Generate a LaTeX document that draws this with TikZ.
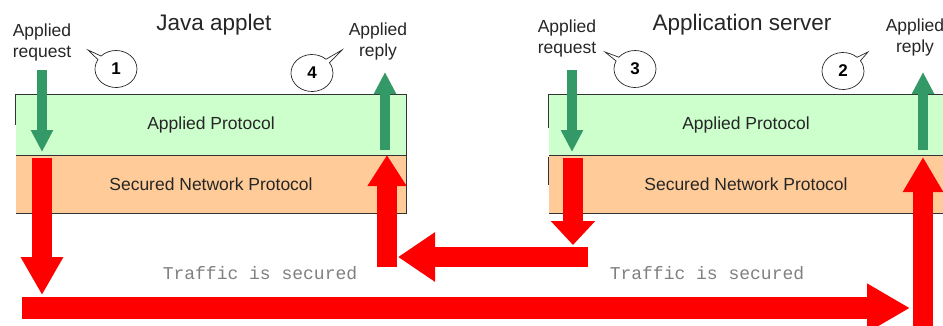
\documentclass[tikz,border=0pt]{standalone}
\usepackage{fontspec}
\setmainfont{Liberation Sans}
\newfontfamily\monof{Liberation Mono}
\usetikzlibrary{arrows.meta,shapes.callouts}
\definecolor{boxgreen}{HTML}{CCFFCC}
\definecolor{boxorange}{HTML}{FFCC99}
\definecolor{arrgreen}{HTML}{339966}
\definecolor{trafficgray}{HTML}{808080}
\definecolor{arrred}{HTML}{FF0000}
\tikzset{
  layer/.style={inner sep=0pt, minimum height=#1, font=\fontsize{17.5}{21}\selectfont, text=black!85},
  greenlayer/.style={layer=60pt, fill=boxgreen},
  orangelayer/.style={layer=58pt, fill=boxorange},
  border/.style={draw=black!80, line width=0.9pt},
  lbl/.style={align=center, inner sep=0pt, font=\fontsize{17.5}{21}\selectfont, text=black!85},
  title/.style={inner sep=0pt, font=\fontsize{22.5}{26}\selectfont, text=black!85},
  bubble/.style={ellipse callout, draw=black!85, line width=0.7pt, fill=white, minimum width=42pt, minimum height=37pt, inner sep=0pt, font=\bfseries\fontsize{17}{17}\selectfont, callout pointer arc=14},
  garrow/.style={draw=arrgreen, line width=10pt, -{Triangle[width=21pt,length=22pt]}},
  rarrow/.style={draw=arrred, line width=20pt},
  traffic/.style={inner sep=0pt, font=\monof\fontsize{18}{18}\selectfont, text=trafficgray}
}
\begin{document}
\begin{tikzpicture}[x=1pt,y=-1pt]
\useasboundingbox (0,0) rectangle (943,325);

% layers
\node[greenlayer, minimum width=390pt] (ap1) at (211,125) {Applied Protocol};
\node[orangelayer, minimum width=390pt] (sn1) at (211,184) {Secured Network Protocol};
\node[greenlayer, minimum width=394pt] (ap2) at (746,125) {Applied Protocol};
\node[orangelayer, minimum width=394pt] (sn2) at (746,184) {Secured Network Protocol};

% borders
\draw[border] ([yshift=-30pt]ap1.north west) -- (ap1.north west) -- (ap1.north east) -- (sn1.south east) -- (sn1.south west);
\draw[border] (ap1.south west) -- (ap1.south east);
\draw[border] ([yshift=-33pt]ap2.north west) -- (ap2.north west) -- (ap2.north east);
\draw[border] (ap2.south west) -- (ap2.south east);
\draw[border] ([yshift=-2pt]sn2.north west) -- ([yshift=-30pt]sn2.north west);
\draw[border] (sn2.south west) -- (sn2.south east);

% titles
\node[title] (t1) at (214,25) {Java applet};
\node[title] (t2) at (742,25) {Application server};

% labels
\node[lbl] (req1) at (42,42) {Applied\\request};
\node[lbl] (rep1) at (378,41) {Applied\\reply};
\node[lbl] (req2) at (567,38) {Applied\\request};
\node[lbl] (rep2) at (915,37) {Applied\\reply};

% callouts
\node[bubble, callout absolute pointer={(88,50)}] (c1) at (116,69) {1};
\node[bubble, callout absolute pointer={(342,50)}] (c4) at (312,73) {4};
\node[bubble, callout absolute pointer={(605,52)}] (c3) at (635,69) {3};
\node[bubble, callout absolute pointer={(868,52)}] (c2) at (843,71) {2};

% coordinates for arrows
\coordinate (g1s) at (42,70);  \coordinate (g1e) at (42,152);
\coordinate (g4s) at (385,150); \coordinate (g4e) at (385,72);
\coordinate (g3s) at (572,70); \coordinate (g3e) at (572,152);
\coordinate (g2s) at (923,150); \coordinate (g2e) at (923,72);

\coordinate (ra1s) at (42,158); \coordinate (ra1e) at (42,295);
\coordinate (rb1s) at (22,308); \coordinate (rb1e) at (910,308);
\coordinate (rc1s) at (923,345); \coordinate (rc1e) at (923,157);
\coordinate (rd1s) at (573,158); \coordinate (rd1e) at (573,245);
\coordinate (re1s) at (588,257); \coordinate (re1e) at (398,257);
\coordinate (rf1s) at (387,267); \coordinate (rf1e) at (387,155);

% green arrows
\draw[garrow] (g1s) -- (g1e);
\draw[garrow] (g4s) -- (g4e);
\draw[garrow] (g3s) -- (g3e);
\draw[garrow] (g2s) -- (g2e);

% red arrows
\draw[rarrow, -{Triangle[width=40pt,length=38pt]}] (ra1s) -- (ra1e);
\draw[rarrow, line width=22pt, -{Triangle[width=46pt,length=43pt]}] (rb1s) -- (rb1e);
\draw[rarrow, -{Triangle[width=38pt,length=35pt]}] (rc1s) -- (rc1e);
\draw[rarrow, -{Triangle[width=43pt,length=24pt]}] (rd1s) -- (rd1e);
\draw[rarrow, -{Triangle[width=47pt,length=37pt]}] (re1s) -- (re1e);
\draw[rarrow, -{Triangle[width=37pt,length=31pt]}] (rf1s) -- (rf1e);

% traffic text
\node[traffic] (tr1) at (260,273) {Traffic is secured};
\node[traffic] (tr2) at (707,273) {Traffic is secured};
\end{tikzpicture}
\end{document}
